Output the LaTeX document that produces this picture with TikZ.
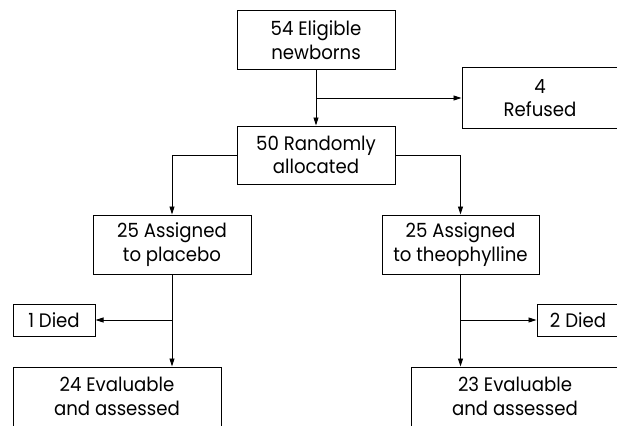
\documentclass[tikz,border=0pt]{standalone}
\usepackage{fontspec}
\setmainfont{Poppins}[FakeStretch=0.93]
\usetikzlibrary{arrows.meta}
\begin{document}
\begin{tikzpicture}[x=1pt,y=-1pt,
  every node/.style={font=\fontsize{19.5}{23.7}\selectfont},
  box/.style={draw,line width=1pt,rectangle,inner sep=0pt,align=center},
  conn/.style={line width=0.9pt,-{Triangle[length=8pt,width=5pt]}},
  plain/.style={line width=0.9pt}]
\useasboundingbox (0,0) rectangle (617,425);
\clip (0,0) rectangle (617,425);
\node[box,minimum width=158pt,minimum height=59pt] (top) at (316,40.5) {54 Eligible\\newborns};
\node[box,minimum width=156pt,minimum height=60pt] (ref) at (540,98) {4\\Refused};
\node[box,minimum width=158pt,minimum height=58pt] (rnd) at (316,155) {50 Randomly\\allocated};
\node[box,minimum width=158pt,minimum height=59pt] (plc) at (172,244.5) {25 Assigned\\to placebo};
\node[box,minimum width=157pt,minimum height=59pt] (theo) at (460.5,244.5) {25 Assigned\\to theophylline};
\node[box,minimum width=82pt,minimum height=32pt] (d1) at (54,320) {1 Died};
\node[box,minimum width=82pt,minimum height=32pt] (d2) at (578,320) {2 Died};
\node[box,minimum width=208pt,minimum height=59pt] (e1) at (117,396.5) {24 Evaluable\\and assessed};
\node[box,minimum width=208pt,minimum height=59pt] (e2) at (515,396.5) {23 Evaluable\\and assessed};
\coordinate (b0) at (316,98);
\coordinate (b1) at (172,320);
\coordinate (b2) at (460.5,320);
\draw[conn] (top.south) -- (rnd.north);
\draw[conn] (b0) -- (ref.west);
\draw[conn] (rnd.west) -| (plc.north);
\draw[conn] (rnd.east) -| (theo.north);
\draw[conn] (plc.south) -- (plc.south |- e1.north);
\draw[conn] (b1) -- (d1.east);
\draw[conn] (theo.south) -- (theo.south |- e2.north);
\draw[conn] (b2) -- (d2.west);
\end{tikzpicture}
\end{document}
